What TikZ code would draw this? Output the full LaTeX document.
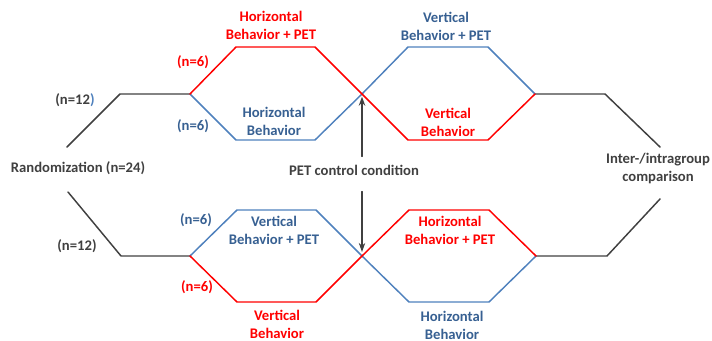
\documentclass[tikz,border=0pt]{standalone}
\usepackage{fontspec}
\setmainfont{Carlito}
\usetikzlibrary{arrows.meta}
\definecolor{armred}{HTML}{FF0000}
\definecolor{armblue}{HTML}{4F81BD}
\definecolor{armbluetext}{HTML}{376092}
\definecolor{flowgray}{HTML}{404040}

\begin{document}
\begin{tikzpicture}[
  x=0.75pt,
  y=-0.75pt,
  line join=round,
  line cap=round,
  trunk/.style={draw=flowgray,line width=1.1pt},
  redarm/.style={draw=armred,line width=1.1pt},
  bluearm/.style={draw=armblue,line width=1.1pt},
  lbl/.style={font=\fontsize{11}{13.5}\selectfont\bfseries,align=center,inner sep=0pt},
  redlbl/.style={lbl,text=armred},
  bluelbl/.style={lbl,text=armbluetext},
  graylbl/.style={lbl,text=flowgray},
  pointer/.style={draw=flowgray,line width=0.9pt,-{Stealth[length=2.4mm,width=1.7mm]}}
]
  \useasboundingbox (0,0) rectangle (712,341);

  % Upper branch: split, crossover, merge.
  \coordinate (T0) at (67,147);
  \coordinate (T1) at (120,94);
  \coordinate (T2) at (190,94);
  \coordinate (TR1) at (236,47);
  \coordinate (TR2) at (315,47);
  \coordinate (TB1) at (236,140);
  \coordinate (TB2) at (315,140);
  \coordinate (TX) at (362,94);
  \coordinate (TB3) at (408,47);
  \coordinate (TB4) at (488,47);
  \coordinate (TR3) at (408,140);
  \coordinate (TR4) at (488,140);
  \coordinate (T3) at (535,94);
  \coordinate (T4) at (605,94);
  \coordinate (T5) at (660,147);

  % Lower branch, mirrored colours.
  \coordinate (B0) at (68,192);
  \coordinate (B1) at (121,256);
  \coordinate (B2) at (190,256);
  \coordinate (BB1) at (237,210);
  \coordinate (BB2) at (316,210);
  \coordinate (BR1) at (237,302);
  \coordinate (BR2) at (316,302);
  \coordinate (BX) at (362,256);
  \coordinate (BR3) at (409,210);
  \coordinate (BR4) at (489,210);
  \coordinate (BB3) at (409,302);
  \coordinate (BB4) at (489,302);
  \coordinate (B3) at (536,256);
  \coordinate (B4) at (607,256);
  \coordinate (B5) at (660,199);

  \draw[trunk] (T0) -- (T1) -- (T2);
  \draw[trunk] (T3) -- (T4) -- (T5);
  \draw[trunk] (B0) -- (B1) -- (B2);
  \draw[trunk] (B3) -- (B4) -- (B5);

  \draw[bluearm] (T2) -- (TB1) -- (TB2) -- (TX) -- (TB3) -- (TB4) -- (T3);
  \draw[redarm] (T2) -- (TR1) -- (TR2) -- (TX) -- (TR3) -- (TR4) -- (T3);
  \draw[bluearm] (B2) -- (BB1) -- (BB2) -- (BX) -- (BB3) -- (BB4) -- (B3);
  \draw[redarm] (B2) -- (BR1) -- (BR2) -- (BX) -- (BR3) -- (BR4) -- (B3);

  % Labels.
  \node[graylbl] (rand) at (78,168) {Randomization (n=24)};
  \node[graylbl] (pet) at (354,170) {PET control condition};
  \node[graylbl] (cmp) at (658,169) {Inter-/intragroup\\comparison};
  \node[graylbl] (n12top) at (75,100) {(n=12\textcolor{armblue}{)}};
  \node[graylbl] (n12bot) at (77,246) {(n=12)};
  \node[redlbl] (n6topred) at (193,62) {(n=6)};
  \node[bluelbl] (n6topblue) at (193,126) {(n=6)};
  \node[bluelbl] (n6botblue) at (196,220) {(n=6)};
  \node[redlbl] (n6botred) at (197,287) {(n=6)};

  \node[redlbl] (hpettop) at (271,25) {Horizontal\\Behavior + PET};
  \node[bluelbl] (hbtop) at (274,121) {Horizontal\\Behavior};
  \node[bluelbl] (vpettop) at (446,26) {Vertical\\Behavior + PET};
  \node[redlbl] (vbtop) at (448,122) {Vertical\\Behavior};
  \node[bluelbl] (vpetbot) at (274,230) {Vertical\\Behavior + PET};
  \node[redlbl] (vbbot) at (277,324) {Vertical\\Behavior};
  \node[redlbl] (hpetbot) at (450,230) {Horizontal\\Behavior + PET};
  \node[bluelbl] (hbbot) at (452,325) {Horizontal\\Behavior};

  % Control condition points at both crossovers.
  \draw[pointer,shorten <=6pt,shorten >=2pt] (pet.north -| TX) -- (TX);
  \draw[pointer,shorten <=12pt,shorten >=3pt] (pet.south -| TX) -- (BX);
\end{tikzpicture}
\end{document}
